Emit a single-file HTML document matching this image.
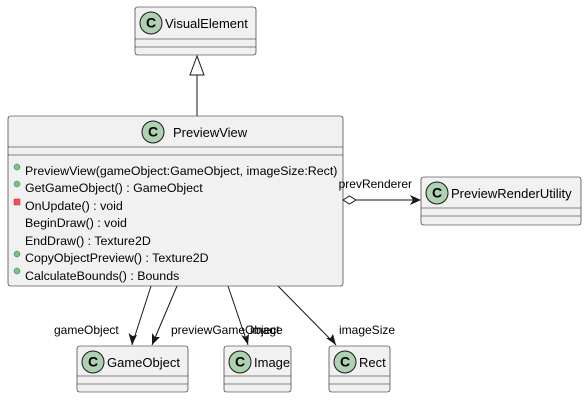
<!DOCTYPE html>
<html><head><meta charset="utf-8"><style>
body{margin:0;background:#fff}
svg text{font-family:"Liberation Sans",sans-serif;font-size:13px;fill:#000}
svg text.m{font-size:12.4px}
</style></head><body>
<svg width="587" height="400" viewBox="0 0 587 400" xmlns="http://www.w3.org/2000/svg">
<defs>
<g id="c"><circle r="11" fill="#ADD1B2" stroke="#181818" stroke-width="1"/><text x="0" y="4.5" text-anchor="middle" style="font-weight:bold;font-size:14px">C</text></g>
</defs>
<g fill="#F1F1F1" stroke="#181818" stroke-width="0.6">
<rect x="135" y="7" width="121" height="48" rx="2.5"/>
<rect x="8" y="116" width="335" height="170" rx="2.5"/>
<rect x="421" y="177" width="160" height="48" rx="2.5"/>
<rect x="77" y="346" width="111" height="46" rx="2.5"/>
<rect x="224" y="346" width="67" height="46" rx="2.5"/>
<rect x="329" y="346" width="61" height="46" rx="2.5"/>
</g>
<g stroke="#181818" stroke-width="0.6">
<line x1="135" y1="39" x2="256" y2="39"/><line x1="135" y1="47" x2="256" y2="47"/>
<line x1="8" y1="147" x2="343" y2="147"/><line x1="8" y1="155" x2="343" y2="155"/>
<line x1="421" y1="208" x2="581" y2="208"/><line x1="421" y1="216" x2="581" y2="216"/>
<line x1="77" y1="376" x2="188" y2="376"/><line x1="77" y1="384" x2="188" y2="384"/>
<line x1="224" y1="376" x2="291" y2="376"/><line x1="224" y1="384" x2="291" y2="384"/>
<line x1="329" y1="376" x2="390" y2="376"/><line x1="329" y1="384" x2="390" y2="384"/>
</g>
<use href="#c" x="151" y="23"/><text x="165" y="28">VisualElement</text>
<use href="#c" x="153" y="132"/><text x="173" y="137">PreviewView</text>
<use href="#c" x="437" y="193"/><text x="451" y="198">PreviewRenderUtility</text>
<use href="#c" x="93" y="362"/><text x="107" y="367">GameObject</text>
<use href="#c" x="240" y="362"/><text x="254" y="367">Image</text>
<use href="#c" x="345" y="362"/><text x="359" y="367">Rect</text>
<g fill="#84BE84" stroke="#038048" stroke-width="0.5">
<circle cx="17" cy="167" r="3"/><circle cx="17" cy="184" r="3"/>
<circle cx="17" cy="254" r="3"/><circle cx="17" cy="271" r="3"/>
</g>
<rect x="14" y="199" width="6" height="6" fill="#F24D5C" stroke="#C82930" stroke-width="0.5"/>
<text class="m" x="25" y="175">PreviewView(gameObject:GameObject, imageSize:Rect)</text>
<text class="m" x="25" y="192">GetGameObject() : GameObject</text>
<text class="m" x="25" y="210">OnUpdate() : void</text>
<text class="m" x="25" y="227">BeginDraw() : void</text>
<text class="m" x="25" y="245">EndDraw() : Texture2D</text>
<text class="m" x="25" y="262">CopyObjectPreview() : Texture2D</text>
<text class="m" x="25" y="280">CalculateBounds() : Bounds</text>
<g stroke="#181818" stroke-width="1" fill="none">
<line x1="197" y1="75" x2="197" y2="116"/>
<polygon points="197,56 190,75 204,75" fill="#fff"/>
<line x1="356" y1="200" x2="420" y2="200"/>
<polygon points="343,200 349.5,196 356,200 349.5,204" fill="#fff"/>
<line x1="151" y1="286" x2="132" y2="345"/>
<line x1="177" y1="286" x2="152" y2="345"/>
<line x1="228" y1="286" x2="248" y2="345"/>
<line x1="278" y1="286" x2="336" y2="345"/>
</g>
<g fill="#181818">
<polygon points="421,200 410,195 413,200 410,205"/>
<polygon points="132,345 128.5,333 132.5,336 137,335"/>
<polygon points="152,345 152,333 155,337 160,337"/>
<polygon points="248,345 241,335 245.5,337 249,334"/>
<polygon points="336,345 326,338 330.5,338 333,334"/>
</g>
<text x="412" y="188" text-anchor="end" style="font-size:12px">prevRenderer</text>
<text x="54" y="334" style="font-size:12px">gameObject</text>
<text x="171" y="334" style="font-size:12px">previewGameObject</text>
<text x="250" y="334" style="font-size:12px">image</text>
<text x="339" y="334" style="font-size:12px">imageSize</text>
</svg>
</body></html>
